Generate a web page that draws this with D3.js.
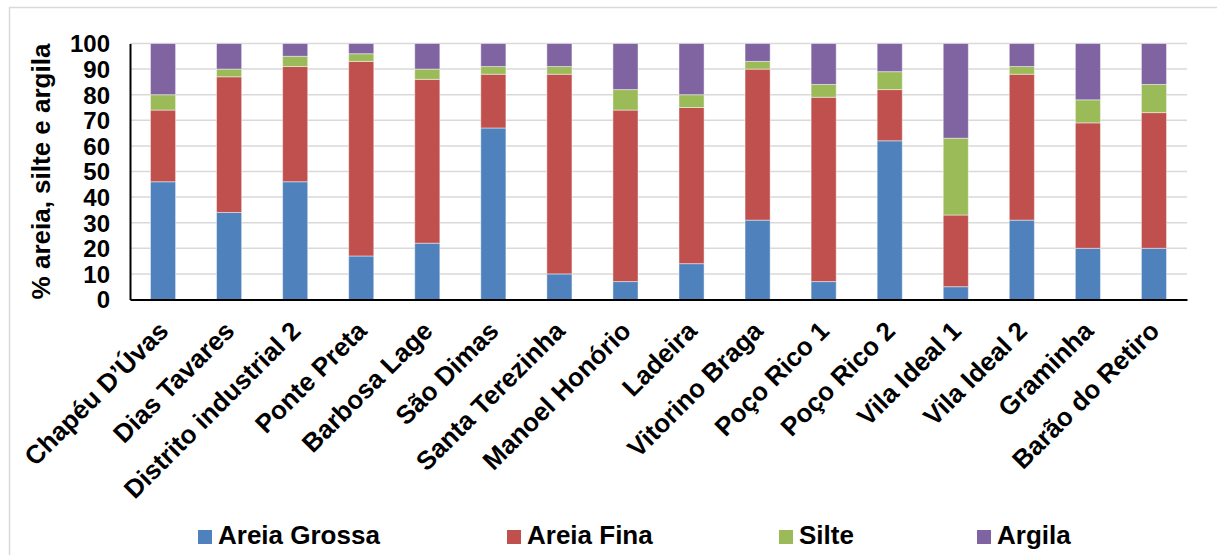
<!DOCTYPE html>
<html>
<head>
<meta charset="utf-8">
<script src="https://cdn.jsdelivr.net/npm/d3@7"></script>
<style>
  html, body { margin: 0; padding: 0; background: #fff; }
  svg { display: block; }
  text { font-family: "Liberation Sans", Arial, sans-serif; font-weight: bold; fill: #000; }
</style>
</head>
<body>
<svg id="chart" width="1217" height="555"></svg>
<script>
const categories = ["Chapéu D’Úvas", "Dias Tavares", "Distrito industrial 2", "Ponte Preta", "Barbosa Lage", "São Dimas", "Santa Terezinha", "Manoel Honório", "Ladeira", "Vitorino Braga", "Poço Rico 1", "Poço Rico 2", "Vila Ideal 1", "Vila Ideal 2", "Graminha", "Barão do Retiro"];
const areiaGrossa = [46, 34, 46, 17, 22, 67, 10, 7, 14, 31, 7, 62, 5, 31, 20, 20];
const areiaFina   = [28, 53, 45, 76, 64, 21, 78, 67, 61, 59, 72, 20, 28, 57, 49, 53];
const silte       = [6, 3, 4, 3, 4, 3, 3, 8, 5, 3, 5, 7, 30, 3, 9, 11];
const argila      = [20, 10, 5, 4, 10, 9, 9, 18, 20, 7, 16, 11, 37, 9, 22, 16];
const seriesNames = ["Areia Grossa", "Areia Fina", "Silte", "Argila"];
const seriesColors = ["#4F81BD", "#C0504D", "#9BBB59", "#8064A2"];
const yTicks = [0, 10, 20, 30, 40, 50, 60, 70, 80, 90, 100];
const yTitle = "% areia, silte e argila";

(function () {
const seriesValues = [areiaGrossa, areiaFina, silte, argila];
const table = categories.map((c, i) => {
  const row = { cat: c };
  seriesNames.forEach((s, k) => row[s] = seriesValues[k][i]);
  return row;
});
const stacked = d3.stack().keys(seriesNames)(table);

const svg = d3.select("#chart");

// outer chart border
svg.append("rect")
  .attr("x", 9.5).attr("y", 7.5)
  .attr("width", 1400).attr("height", 700)
  .attr("fill", "none").attr("stroke", "#d9d9d9").attr("stroke-width", 1.5);

const pLeft = 130, pRight = 1187, pTop = 43.5, pBottom = 299.5;

const x = d3.scaleBand().domain(categories).range([pLeft, pRight]).paddingInner(0.62).paddingOuter(0.31);
const y = d3.scaleLinear().domain([0, 100]).range([pBottom, pTop]);

// gridlines
svg.append("g").selectAll("line").data(yTicks.filter(t => t > 0)).join("line")
  .attr("x1", pLeft).attr("x2", pRight)
  .attr("y1", d => y(d)).attr("y2", d => y(d))
  .attr("stroke", "#d9d9d9").attr("stroke-width", 1.5);

// bars
svg.append("g").selectAll("g").data(stacked).join("g")
  .attr("fill", (d, i) => seriesColors[i])
  .selectAll("rect").data(d => d).join("rect")
  .attr("x", d => x(d.data.cat))
  .attr("width", x.bandwidth())
  .attr("y", d => y(d[1]))
  .attr("height", d => y(d[0]) - y(d[1]))
  .attr("stroke", "rgba(255,255,255,0.45)")
  .attr("stroke-width", 1);

// y axis
const yAxis = d3.axisLeft(y).tickValues(yTicks).tickSize(0).tickPadding(20);
const gy = svg.append("g").attr("transform", `translate(${pLeft},0)`).call(yAxis);
gy.select(".domain").attr("stroke", "#000").attr("stroke-width", 2);
gy.selectAll("text").attr("font-size", 24).attr("dy", "0.35em")
  .style("font-family", "'Liberation Sans', Arial, sans-serif").style("font-weight", "bold");

// x axis
const xAxis = d3.axisBottom(x).tickSize(0).tickPadding(0);
const gx = svg.append("g").attr("transform", `translate(0,${pBottom})`).call(xAxis);
gx.select(".domain").attr("stroke", "#000").attr("stroke-width", 2);
gx.selectAll("text")
  .attr("font-size", 26)
  .attr("text-anchor", "end")
  .attr("dy", 0)
  .attr("y", 0)
  .attr("transform", "translate(7,33) rotate(-45)")
  .style("font-family", "'Liberation Sans', Arial, sans-serif").style("font-weight", "bold");

// y title
svg.append("text")
  .attr("transform", `translate(50,171.5) rotate(-90)`)
  .attr("text-anchor", "middle")
  .attr("font-size", 26)
  .text(yTitle);

// legend
const legendX = [198, 507, 779, 977];
const lg = svg.append("g").selectAll("g").data(seriesNames).join("g")
  .attr("transform", (d, i) => `translate(${legendX[i]},530)`);
lg.append("rect").attr("width", 14).attr("height", 14).attr("fill", (d, i) => seriesColors[i]);
lg.append("text").attr("x", 20).attr("y", 14).attr("font-size", 26).text(d => d);
})();
</script>
</body>
</html>
